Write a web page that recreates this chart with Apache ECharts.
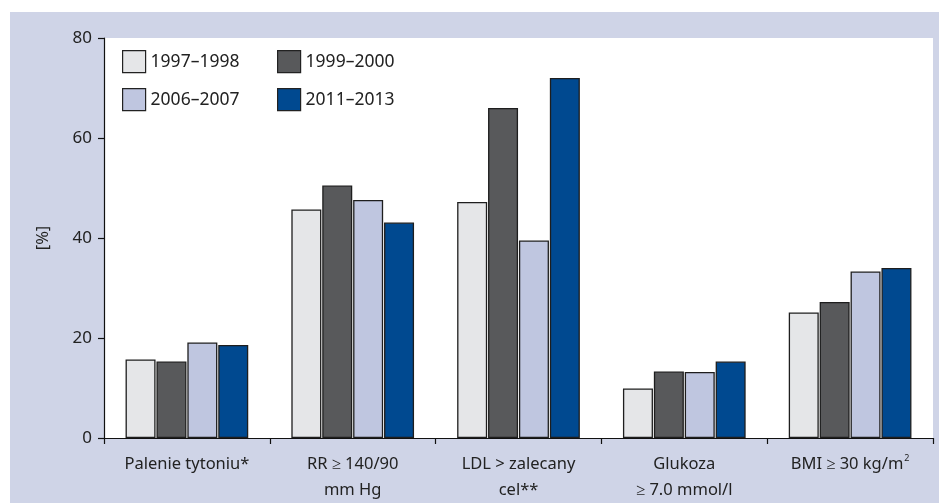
<!DOCTYPE html>
<html>
<head>
<meta charset="utf-8">
<script src="https://cdn.jsdelivr.net/npm/echarts@6/dist/echarts.min.js"></script>
<style>
html,body{margin:0;padding:0;background:#fff;}
#chart{width:941px;height:504px;}
</style>
</head>
<body>
<div id="chart"></div>
<script>
const categories = ['Palenie tytoniu*', 'RR ≥ 140/90\nmm Hg', 'LDL > zalecany\ncel**', 'Glukoza\n≥ 7.0 mmol/l', 'BMI ≥ 30 kg/m{sup|2}'];
const seriesNames = ['1997–1998', '1999–2000', '2006–2007', '2011–2013'];
const s1997 = [15.7, 45.7, 47.2, 9.9, 25.1];
const s1999 = [15.3, 50.5, 66.0, 13.3, 27.2];
const s2006 = [19.1, 47.6, 39.5, 13.2, 33.3];
const s2011 = [18.6, 43.1, 72.0, 15.3, 34.0];
const yTicks = [0, 20, 40, 60, 80];

const colors = ['#e5e6e8', '#58595b', '#bfc6e0', '#004990'];
const seriesData = [s1997, s1999, s2006, s2011];
const FONT = 'Noto Sans';

const chart = echarts.init(document.getElementById('chart'));

const legendPos = [[122, 50], [277, 50], [122, 88], [277, 88]];
const legends = seriesNames.map((n, i) => ({
  data: [n],
  left: legendPos[i][0],
  top: legendPos[i][1],
  itemWidth: 23,
  itemHeight: 22,
  itemGap: 0,
  padding: 0,
  icon: 'rect',
  itemStyle: { borderColor: '#222', borderWidth: 1.2 },
  textStyle: { fontFamily: FONT, fontSize: 17.5, color: '#222', padding: [0, 0, 0, 0] },
  selectedMode: false
}));

chart.setOption({
  animation: false,
  graphic: [{
    type: 'rect', z: -10, silent: true,
    shape: { x: 10, y: 12, width: 929, height: 491 },
    style: { fill: '#cfd4e7' }
  }],
  grid: {
    left: 104, top: 38, width: 829, height: 400,
    show: true, backgroundColor: '#ffffff', borderWidth: 0
  },
  legend: legends,
  xAxis: {
    type: 'category',
    data: categories,
    axisLine: { lineStyle: { color: '#111', width: 1.2 } },
    axisTick: { show: true, length: 6, lineStyle: { color: '#111', width: 1.2 } },
    axisLabel: {
      fontFamily: FONT, fontSize: 16.5, color: '#222', lineHeight: 26, margin: 13,
      interval: 0,
      rich: { sup: { fontFamily: FONT, fontSize: 9, verticalAlign: 'middle', padding: [0, 0, 12, 1], color: '#222' } }
    }
  },
  yAxis: {
    type: 'value', min: 0, max: 80, interval: 20,
    name: '[%]', nameLocation: 'middle', nameGap: 52, nameRotate: 90,
    nameTextStyle: { fontFamily: FONT, fontSize: 16.5, color: '#222' },
    splitLine: { show: false },
    axisLine: { show: true, lineStyle: { color: '#111', width: 1.2 } },
    axisTick: { show: true, length: 6, lineStyle: { color: '#111', width: 1.2 } },
    axisLabel: {
      fontFamily: FONT, fontSize: 17, color: '#222', margin: 12,
      formatter: v => yTicks.includes(v) ? String(v) : ''
    }
  },
  series: seriesNames.map((n, i) => ({
    name: n,
    type: 'bar',
    data: seriesData[i],
    barWidth: 30,
    barGap: '3%',
    itemStyle: { color: colors[i], borderColor: '#1e1e1e', borderWidth: 1.3 }
  }))
});
</script>
</body>
</html>
